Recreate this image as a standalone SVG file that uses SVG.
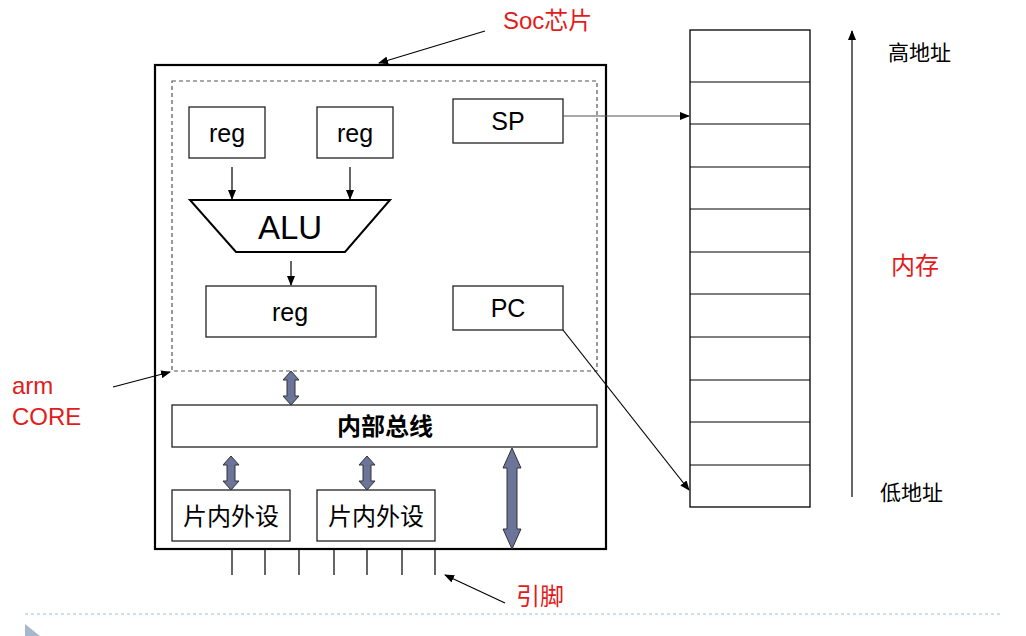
<svg xmlns="http://www.w3.org/2000/svg" width="1026" height="636" viewBox="0 0 1026 636">
<style>
.t{font-family:"Liberation Sans",Arial,sans-serif;fill:#000}
.c{font-family:"Liberation Sans","Noto Sans CJK SC",sans-serif}
.red{fill:#e31b1b}
.bx{fill:#fff;stroke:#222;stroke-width:1.3}
.ln{stroke:#000;stroke-width:1.2;fill:none}
.dbl{fill:#6b7499;stroke:#333;stroke-width:1}
</style>
<defs>
<marker id="a" markerWidth="10" markerHeight="8" refX="9" refY="4" orient="auto" markerUnits="userSpaceOnUse"><path d="M0,0 L10,4 L0,8 z" fill="#000"/></marker>
</defs>
<rect width="1026" height="636" fill="#fff"/>
<g id="soc"><rect x="155" y="65" width="451" height="484" fill="none" stroke="#000" stroke-width="2.2"/></g>
<g id="core"><rect x="172" y="81" width="425" height="290" fill="none" stroke="#555" stroke-width="1.2" stroke-dasharray="4,3"/></g>
<g id="reg1"><rect class="bx" x="189" y="107" width="76" height="51"/><text class="t" x="227" y="142" font-size="25" text-anchor="middle">reg</text></g>
<g id="reg2"><rect class="bx" x="317" y="107" width="76" height="51"/><text class="t" x="355" y="142" font-size="25" text-anchor="middle">reg</text></g>
<g id="alu"><path d="M190,200 L390,200 L345,252 L236,252 Z" fill="#fff" stroke="#000" stroke-width="2"/><text class="t" x="290" y="239" font-size="33" text-anchor="middle">ALU</text></g>
<g id="reg3"><rect class="bx" x="206" y="286" width="170" height="51"/><text class="t" x="290" y="321" font-size="25" text-anchor="middle">reg</text></g>
<g id="sp"><rect class="bx" x="453" y="99" width="110" height="44"/><text class="t" x="508" y="130" font-size="25" text-anchor="middle">SP</text></g>
<g id="pc"><rect class="bx" x="453" y="286" width="110" height="44"/><text class="t" x="508" y="317" font-size="25" text-anchor="middle">PC</text></g>
<g id="bus"><rect class="bx" x="172" y="405" width="425" height="42"/><text class="c" x="385" y="435" font-size="24" font-weight="bold" text-anchor="middle">内部总线</text></g>
<g id="per1"><rect class="bx" x="172" y="490" width="118" height="51"/><text class="c" x="231" y="525" font-size="24" text-anchor="middle">片内外设</text></g>
<g id="per2"><rect class="bx" x="317" y="490" width="118" height="51"/><text class="c" x="376" y="525" font-size="24" text-anchor="middle">片内外设</text></g>
<g id="mem">
<rect x="690" y="30" width="120" height="477" fill="#fff" stroke="#000" stroke-width="1.3"/>
<path class="ln" d="M690,82H810M690,124H810M690,167H810M690,209H810M690,252H810M690,294H810M690,337H810M690,380H810M690,422H810M690,465H810"/>
</g>
<g id="labels">
<text class="c red" x="503" y="29" font-size="24">Soc芯片</text>
<text class="c red" x="12" y="394" font-size="24">arm</text>
<text class="c red" x="12" y="425" font-size="24">CORE</text>
<text class="c red" x="516" y="605" font-size="24">引脚</text>
<text class="c red" x="891" y="274" font-size="24">内存</text>
<text class="c" x="888" y="60" font-size="21">高地址</text>
<text class="c" x="880" y="500" font-size="21">低地址</text>
</g>
<g id="connectors">
<line class="ln" x1="485" y1="31" x2="379" y2="63" marker-end="url(#a)"/>
<line class="ln" x1="113" y1="387" x2="170" y2="372" marker-end="url(#a)"/>
<line class="ln" x1="505" y1="603" x2="445" y2="575" marker-end="url(#a)"/>
<line class="ln" x1="232" y1="167" x2="232" y2="199" marker-end="url(#a)"/>
<line class="ln" x1="350" y1="167" x2="350" y2="199" marker-end="url(#a)"/>
<line class="ln" x1="291" y1="261" x2="291" y2="285" marker-end="url(#a)"/>
<line x1="563" y1="116" x2="689" y2="116" stroke="#555" stroke-width="1.2" marker-end="url(#a)"/>
<line class="ln" x1="563" y1="330" x2="689" y2="490" marker-end="url(#a)"/>
<line class="ln" x1="852" y1="497" x2="852" y2="31" marker-end="url(#a)"/>
<path class="dbl" d="M291,371 L299,380 L295,380 L295,396 L299,396 L291,405 L283,396 L287,396 L287,380 L283,380 Z"/>
<path class="dbl" d="M231,456 L239,465 L235,465 L235,481 L239,481 L231,490 L223,481 L227,481 L227,465 L223,465 Z"/>
<path class="dbl" d="M367,456 L375,465 L371,465 L371,481 L375,481 L367,490 L359,481 L363,481 L363,465 L359,465 Z"/>
<path class="dbl" d="M512,448 L521,468 L517,468 L517,529 L521,529 L512,549 L503,529 L507,529 L507,468 L503,468 Z"/>
<path class="ln" stroke-width="2" d="M232,550V575M265,550V575M299,550V575M334,550V575M367,550V575M402,550V575M435,550V575"/>
</g>
<line x1="25" y1="614" x2="1000" y2="614" stroke="#9cbfdc" stroke-width="1" stroke-dasharray="3,3"/>
<path d="M25,624 L40,636 L25,636 Z" fill="#a8b8cc"/>
</svg>
